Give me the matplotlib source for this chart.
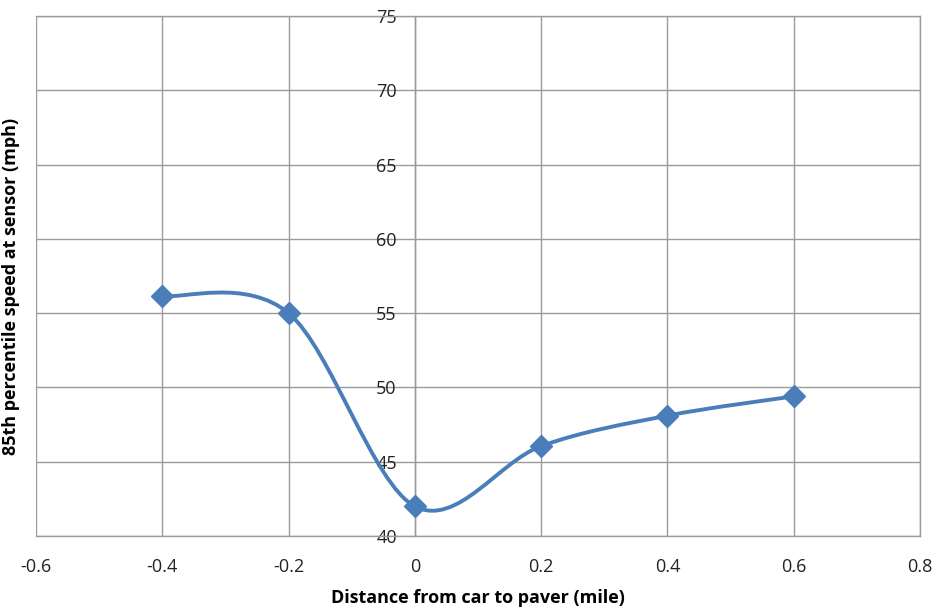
import numpy as np
import matplotlib
matplotlib.use("Agg")
import matplotlib.pyplot as plt
from matplotlib.path import Path
from matplotlib.patches import PathPatch

distance = [-0.4, -0.2, 0.0, 0.2, 0.4, 0.6]
speed = [56.15, 55.0, 42.0, 46.05, 48.1, 49.4]
x_ticks = [-0.6, -0.4, -0.2, 0, 0.2, 0.4, 0.6, 0.8]
x_tick_labels = ["-0.6", "-0.4", "-0.2", "0", "0.2", "0.4", "0.6", "0.8"]
y_ticks = [40, 45, 50, 55, 60, 65, 70, 75]

plt.rcParams['font.family'] = ['Open Sans', 'DejaVu Sans']

fig = plt.figure(figsize=(9.39, 6.16), dpi=100)
ax = fig.add_axes([36/939, 80/616, 884/939, 520/616])

grid_c = '#9b9b9b'
ax.set_xlim(-0.6, 0.8)
ax.set_ylim(40, 75)
ax.set_xticks(x_ticks)
ax.set_xticklabels(x_tick_labels)
ax.set_yticks(y_ticks)
ax.grid(True, color=grid_c, linewidth=1.0)
ax.set_axisbelow(True)
for s in ax.spines.values():
    s.set_color(grid_c)
    s.set_linewidth(1.0)
ax.spines['left'].set_position(('data', 0))
ax.axvline(-0.6, color=grid_c, linewidth=1.2, zorder=0.5)
ax.tick_params(axis='both', length=0, labelsize=13, colors='#222222')
ax.tick_params(axis='x', pad=16)
ax.tick_params(axis='y', pad=13)

# Smoothed line (Catmull-Rom style Bezier, as in spreadsheet smooth lines)
x = np.array(distance)
y = np.array(speed)
n = len(x)
verts = [(x[0], y[0])]
codes = [Path.MOVETO]
for i in range(n - 1):
    p0 = np.array([x[max(i-1, 0)], y[max(i-1, 0)]])
    p1 = np.array([x[i], y[i]])
    p2 = np.array([x[i+1], y[i+1]])
    p3 = np.array([x[min(i+2, n-1)], y[min(i+2, n-1)]])
    c1 = p1 + (p2 - p0) / 6.0
    c2 = p2 - (p3 - p1) / 6.0
    verts += [tuple(c1), tuple(c2), tuple(p2)]
    codes += [Path.CURVE4] * 3
patch = PathPatch(Path(verts, codes), facecolor='none', edgecolor='#4a7ebb',
                  linewidth=2.8, capstyle='round', joinstyle='round', zorder=3)
ax.add_patch(patch)
ax.plot(distance, speed, linestyle='none', marker='D', markersize=11.5,
        color='#4a7ebb', zorder=4)

ax.set_xlabel('Distance from car to paver (mile)', fontsize=13, fontweight='bold')
ax.set_ylabel('85th percentile speed at sensor (mph)', fontsize=13, fontweight='bold')
ax.xaxis.set_label_coords(0.5, -0.102)
ax.yaxis.set_label_coords(-0.018, 0.48)

fig.savefig('out.png', dpi=100)
